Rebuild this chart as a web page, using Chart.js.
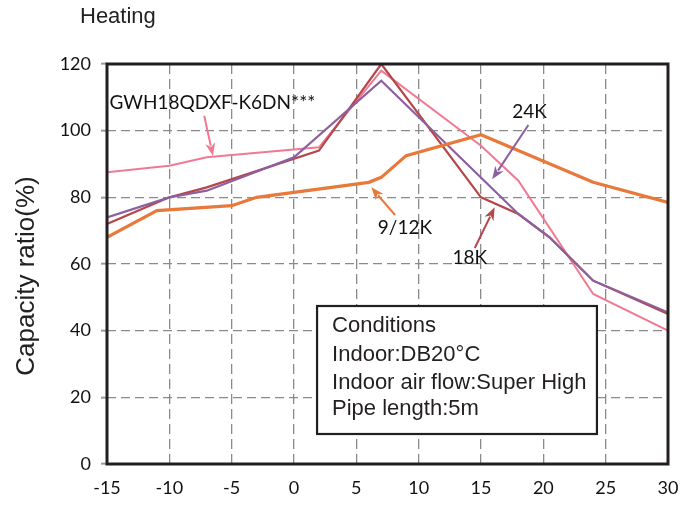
<!DOCTYPE html>
<html>
<head>
<meta charset="utf-8">
<script src="https://cdn.jsdelivr.net/npm/chart.js@4.4.0/dist/chart.umd.min.js"></script>
<style>
  html, body { margin: 0; padding: 0; background: #fff; }
  #wrap { width: 695px; height: 505px; }
</style>
</head>
<body>
<div id="wrap"><canvas id="myChart" width="695" height="505"></canvas></div>
<script>
// outdoor temperature (°C) and capacity ratio (%) for each curve
const gwhTemps  = [-15, -10, -7, 2, 7, 15, 18, 24, 30];
const gwhRatio  = [87.5, 89.5, 92, 95, 118, 95.5, 85, 51, 40];

const k18Temps  = [-15, -10, -7, 2, 7, 15, 18, 20.5, 24, 30];
const k18Ratio  = [72, 80, 83, 94, 120, 80, 75, 68, 55, 45];

const k24Temps  = [-15, -10, -7, 0, 7, 18, 20.5, 24, 30];
const k24Ratio  = [74, 80, 82, 92, 115, 75, 68, 55, 45.5];

const k912Temps = [-15, -11, -5, -3, 6, 7, 9, 15, 24, 30];
const k912Ratio = [68, 76, 77.5, 80, 84.5, 86, 92.5, 98.8, 84.5, 78.5];

const xTicks = [-15, -10, -5, 0, 5, 10, 15, 20, 25, 30];
const yTicks = [0, 20, 40, 60, 80, 100, 120];

const conditions = ['Conditions', 'Indoor:DB20°C', 'Indoor air flow:Super High', 'Pipe length:5m'];

// callouts in data units: text spot, arrow tail, arrow tip
const callouts = [
    { text: 'GWH18QDXF-K6DN***', tx: -14.8, ty: 108.3, align: 'left', from: [-7.2, 104.5], to: [-6.5, 92.4], color: '#ef7a92' },
    { text: '24K',   tx: 18.9, ty: 105.6, align: 'center', from: [18.8, 101.7], to: [15.9, 85.4], color: '#8c5fa0' },
    { text: '9/12K', tx: 8.9,  ty: 70.8,  align: 'center', from: [8.1, 74.7],  to: [6.2, 83.0],  color: '#e8793a' },
    { text: '18K',   tx: 14.1, ty: 61.8,  align: 'center', from: [14.5, 64.8], to: [16.1, 77.0], color: '#b5474b' },
];

function toPoints(xs, ys) {
    return xs.map((x, i) => ({ x: x, y: ys[i] }));
}

const data = {
    datasets: [
        { label: 'GWH18QDXF-K6DN***', data: toPoints(gwhTemps, gwhRatio), borderColor: '#ef7a92', borderWidth: 2, order: 4 },
        { label: '18K', data: toPoints(k18Temps, k18Ratio), borderColor: '#b5474b', borderWidth: 2.2, order: 3 },
        { label: '24K', data: toPoints(k24Temps, k24Ratio), borderColor: '#8c5fa0', borderWidth: 2.2, order: 2 },
        { label: '9/12K', data: toPoints(k912Temps, k912Ratio), borderColor: '#e8793a', borderWidth: 3.2, order: 1 },
    ]
};

const decor = {
    id: 'decor',
    afterDatasetsDraw(chart) {
        const ctx = chart.ctx;
        const xs = chart.scales.x, ys = chart.scales.y;
        const a = chart.chartArea;
        ctx.save();

        // conditions box
        const bx0 = xs.getPixelForValue(1.85), bx1 = xs.getPixelForValue(24.3);
        const by0 = ys.getPixelForValue(47.4), by1 = ys.getPixelForValue(9);
        ctx.fillStyle = '#fff';
        ctx.fillRect(bx0, by0, bx1 - bx0, by1 - by0);
        ctx.lineWidth = 2.2;
        ctx.strokeStyle = '#231f20';
        ctx.strokeRect(bx0, by0, bx1 - bx0, by1 - by0);
        ctx.fillStyle = '#231f20';
        ctx.font = '22px "Liberation Sans", Arial, sans-serif';
        ctx.textAlign = 'left';
        ctx.textBaseline = 'alphabetic';
        const base = [332, 361, 389, 415];
        conditions.forEach((t, i) => ctx.fillText(t, bx0 + 15, base[i]));

        // callout arrows + labels
        callouts.forEach(c => {
            const x0 = xs.getPixelForValue(c.from[0]), y0 = ys.getPixelForValue(c.from[1]);
            const x1 = xs.getPixelForValue(c.to[0]), y1 = ys.getPixelForValue(c.to[1]);
            const ang = Math.atan2(y1 - y0, x1 - x0);
            const hl = 13, hw = 5;
            ctx.strokeStyle = c.color;
            ctx.fillStyle = c.color;
            ctx.lineWidth = 2;
            ctx.beginPath();
            ctx.moveTo(x0, y0);
            ctx.lineTo(x1 - Math.cos(ang) * hl * 0.8, y1 - Math.sin(ang) * hl * 0.8);
            ctx.stroke();
            ctx.beginPath();
            ctx.moveTo(x1, y1);
            ctx.lineTo(x1 - Math.cos(ang) * hl - Math.sin(ang) * hw, y1 - Math.sin(ang) * hl + Math.cos(ang) * hw);
            ctx.lineTo(x1 - Math.cos(ang) * hl * 0.7, y1 - Math.sin(ang) * hl * 0.7);
            ctx.lineTo(x1 - Math.cos(ang) * hl + Math.sin(ang) * hw, y1 - Math.sin(ang) * hl - Math.cos(ang) * hw);
            ctx.closePath();
            ctx.fill();

            ctx.fillStyle = '#111';
            ctx.font = '19px Lato, sans-serif';
            ctx.textAlign = c.align;
            ctx.textBaseline = 'middle';
            ctx.fillText(c.text, xs.getPixelForValue(c.tx), ys.getPixelForValue(c.ty));
        });

        // plot frame
        ctx.strokeStyle = '#231f20';
        ctx.lineWidth = 3;
        ctx.strokeRect(a.left, a.top, a.right - a.left, a.bottom - a.top);

        // titles
        ctx.fillStyle = '#222';
        ctx.font = '22px "Liberation Sans", Arial, sans-serif';
        ctx.textAlign = 'left';
        ctx.textBaseline = 'alphabetic';
        ctx.fillText('Heating', 80, 23);

        ctx.translate(27, 276);
        ctx.rotate(-Math.PI / 2);
        ctx.font = '26px "Liberation Sans", Arial, sans-serif';
        ctx.textAlign = 'center';
        ctx.textBaseline = 'middle';
        ctx.fillText('Capacity ratio(%)', 0, 0);
        ctx.restore();
    }
};

const options = {
    responsive: false,
    animation: false,
    layout: { padding: { top: 64, right: 27, left: 0, bottom: 0 } },
    elements: { point: { radius: 0 }, line: { tension: 0 } },
    plugins: { legend: { display: false }, tooltip: { enabled: false }, title: { display: false } },
    scales: {
        x: {
            type: 'linear',
            min: xTicks[0],
            max: xTicks[xTicks.length - 1],
            afterBuildTicks: (s) => { s.ticks = xTicks.map(v => ({ value: v })); },
            afterFit: (s) => { s.height = 41; },
            border: { display: false, dash: [10, 5] },
            grid: { color: '#8a8a8a', lineWidth: 1.3, drawTicks: false },
            ticks: { color: '#111', padding: 13, font: { family: 'Lato', size: 18 }, maxRotation: 0 }
        },
        y: {
            min: yTicks[0],
            max: yTicks[yTicks.length - 1],
            afterBuildTicks: (s) => { s.ticks = yTicks.map(v => ({ value: v })); },
            afterFit: (s) => { s.width = 107; },
            border: { display: false, dash: [9, 5] },
            grid: { color: '#8a8a8a', lineWidth: 1.3, tickLength: 6, tickColor: '#9a9a9a', tickBorderDash: [], tickWidth: 2 },
            ticks: { color: '#111', padding: 10, font: { family: 'Lato', size: 18 } }
        }
    }
};

const ctx = document.getElementById('myChart').getContext('2d');
const myChart = new Chart(ctx, {
    type: 'line',
    data: data,
    options: options,
    plugins: [decor]
});
</script>
</body>
</html>
